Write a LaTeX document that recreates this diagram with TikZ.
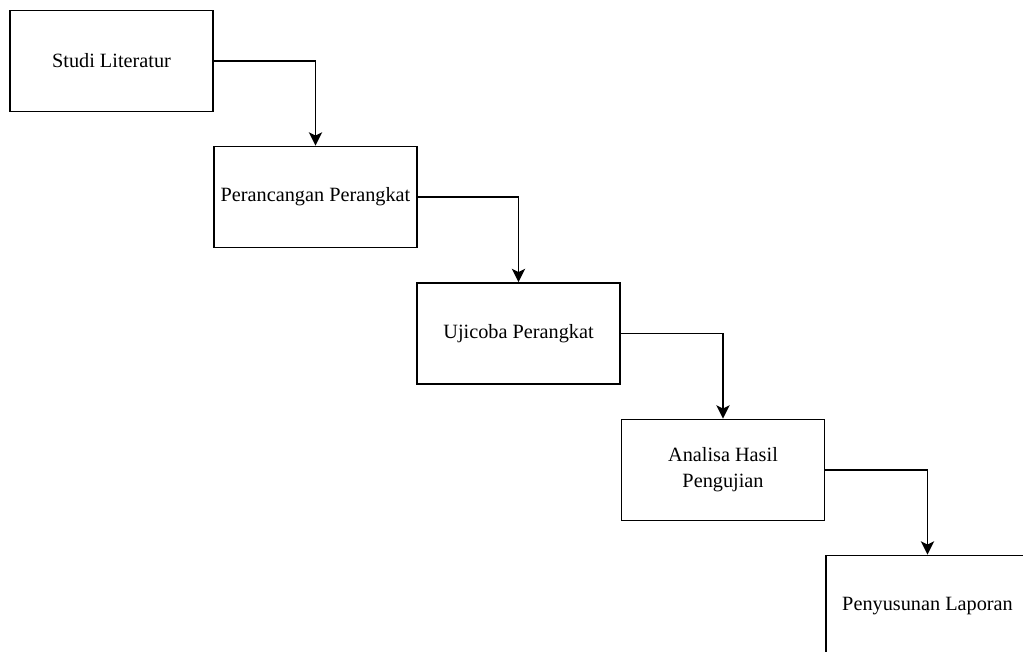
\documentclass[tikz,border=0pt]{standalone}
\usepackage{fontspec}
\setmainfont{Liberation Serif}
\usetikzlibrary{arrows.meta,positioning}
\tikzset{tahap/.style={draw,line width=1.1pt,minimum width=152pt,minimum height=76pt,
                       align=center,inner sep=2pt,font=\fontsize{15.2}{19.5}\selectfont},
         panah/.style={line width=1.1pt,-{Stealth[length=10pt,width=10pt,inset=2.5pt]}}}
\begin{document}
\begin{tikzpicture}[x=0.75pt,y=-0.75pt]
                    \clip (0,0) rectangle (1023,652);
                    \node[tahap] (studi) at (111.5,61) {Studi Literatur};
                    \node[tahap] (rancang) at (315.5,197) {Perancangan Perangkat};
                    \node[tahap] (uji) at (518.5,333.5) {Ujicoba Perangkat};
                    \node[tahap] (analisa) at (723,470) {Analisa Hasil\\Pengujian};
                    \node[tahap] (lapor) at (927.5,606) {Penyusunan Laporan};
                    \foreach \a/\b in {studi/rancang,rancang/uji,uji/analisa,analisa/lapor}
                    {
                        \draw[panah] (\a.east) -| (\b.north);
                    }
                \end{tikzpicture}
\end{document}
